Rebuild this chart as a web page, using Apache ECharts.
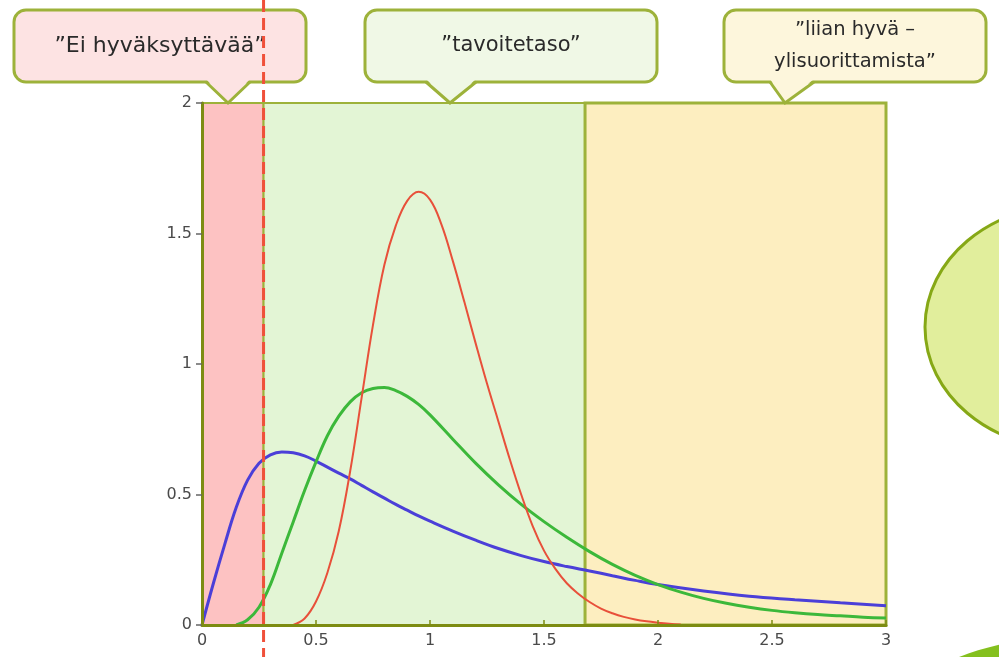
<!DOCTYPE html>
<html>
<head>
<meta charset="utf-8">
<script src="https://cdn.jsdelivr.net/npm/echarts@6/dist/echarts.min.js"></script>
<style>
  html, body { margin: 0; padding: 0; background: #fff; }
  #chart { width: 999px; height: 657px; }
</style>
</head>
<body>
<div id="chart"></div>
<script>
// luettu kuvasta
const blueX = [0, 0.05, 0.1, 0.15, 0.2, 0.25, 0.3, 0.35, 0.4, 0.45, 0.5, 0.55, 0.6, 0.65, 0.7, 0.75, 0.8, 0.85, 0.9, 0.95, 1.0, 1.1, 1.2, 1.3, 1.4, 1.5, 1.6, 1.7, 1.8, 1.9, 2.0, 2.2, 2.4, 2.6, 2.8, 3.0];
const blueY = [0, 0.16, 0.31, 0.45, 0.555, 0.62, 0.652, 0.663, 0.66, 0.648, 0.628, 0.605, 0.582, 0.56, 0.535, 0.51, 0.486, 0.462, 0.44, 0.418, 0.398, 0.36, 0.325, 0.293, 0.266, 0.243, 0.224, 0.207, 0.189, 0.171, 0.155, 0.13, 0.11, 0.097, 0.085, 0.074];

const greenX = [0.15, 0.2, 0.25, 0.3, 0.35, 0.4, 0.45, 0.5, 0.55, 0.6, 0.65, 0.7, 0.75, 0.8, 0.85, 0.9, 0.95, 1.0, 1.1, 1.2, 1.3, 1.4, 1.5, 1.6, 1.7, 1.8, 1.9, 2.0, 2.1, 2.2, 2.3, 2.4, 2.5, 2.6, 2.7, 2.8, 2.9, 3.0];
const greenY = [0, 0.02, 0.068, 0.155, 0.275, 0.395, 0.515, 0.625, 0.725, 0.80, 0.855, 0.89, 0.906, 0.91, 0.898, 0.876, 0.845, 0.805, 0.712, 0.62, 0.537, 0.462, 0.396, 0.336, 0.281, 0.232, 0.19, 0.155, 0.126, 0.102, 0.083, 0.068, 0.056, 0.047, 0.04, 0.035, 0.03, 0.027];

const redX = [0.4, 0.45, 0.5, 0.55, 0.6, 0.65, 0.7, 0.75, 0.8, 0.85, 0.9, 0.95, 1.0, 1.05, 1.1, 1.15, 1.2, 1.25, 1.3, 1.35, 1.4, 1.45, 1.5, 1.55, 1.6, 1.65, 1.7, 1.75, 1.8, 1.85, 1.9, 1.95, 2.0, 2.05, 2.1];
const redY = [0, 0.025, 0.09, 0.2, 0.36, 0.59, 0.87, 1.15, 1.38, 1.53, 1.625, 1.66, 1.63, 1.535, 1.395, 1.24, 1.08, 0.925, 0.78, 0.635, 0.5, 0.38, 0.285, 0.215, 0.16, 0.12, 0.088, 0.063, 0.045, 0.031, 0.021, 0.014, 0.009, 0.005, 0.002];

const xTicks = [0, 0.5, 1, 1.5, 2, 2.5, 3];
const yTicks = [0, 0.5, 1, 1.5, 2];

// alueiden rajat
const rejectLimit = 0.27;
const targetLimit = 1.68;
const xMax = 3;

const callouts = [
  { lines: ['\u201dEi hyväksyttävää\u201d'], fill: '#fde3e3', size: 22 },
  { lines: ['\u201dtavoitetaso\u201d'], fill: '#f0f8e6', size: 21 },
  { lines: ['\u201dliian hyvä \u2013', 'ylisuorittamista\u201d'], fill: '#fdf6dc', size: 19.5 }
];

const olive = '#9db23a';
const chart = echarts.init(document.getElementById('chart'));

function pairs(xs, ys) {
  return xs.map((x, i) => [x, ys[i]]);
}

function lineSeries(name, xs, ys, color, width) {
  return {
    name: name,
    type: 'line',
    data: pairs(xs, ys),
    smooth: 0.4,
    showSymbol: false,
    lineStyle: { color: color, width: width },
    z: 5
  };
}

const option = {
  animation: false,
  grid: { left: 202, right: 113, top: 103, bottom: 32 },
  xAxis: {
    type: 'value',
    min: 0,
    max: xMax,
    interval: 0.5,
    axisLine: { show: true, onZero: false, lineStyle: { color: '#7d8c12', width: 3 } },
    axisTick: { show: true, inside: true, length: 5, lineStyle: { color: '#7d8c12', width: 1.5 } },
    splitLine: { show: false },
    axisLabel: { color: '#4a4a4a', fontSize: 16, fontFamily: 'DejaVu Sans', margin: 8,
      customValues: xTicks },
    z: 10
  },
  yAxis: {
    type: 'value',
    min: 0,
    max: 2,
    interval: 0.5,
    axisLine: { show: true, lineStyle: { color: '#7d8c12', width: 3 } },
    axisTick: { show: true, length: 6, lineStyle: { color: '#666', width: 1.5 } },
    splitLine: { show: false },
    axisLabel: { color: '#4a4a4a', fontSize: 16, fontFamily: 'DejaVu Sans', margin: 10,
      customValues: yTicks },
    z: 10
  },
  series: [
    {
      type: 'line',
      data: [],
      markArea: {
        silent: true,
        data: [
          [{ xAxis: 0, yAxis: 0, itemStyle: { color: '#fdc2c2', borderColor: olive, borderWidth: 2 } }, { xAxis: rejectLimit, yAxis: 2 }],
          [{ xAxis: rejectLimit, yAxis: 0, itemStyle: { color: '#e3f5d5', borderColor: olive, borderWidth: 2 } }, { xAxis: targetLimit, yAxis: 2 }],
          [{ xAxis: targetLimit, yAxis: 0, itemStyle: { color: '#fdeec0', borderColor: olive, borderWidth: 3 } }, { xAxis: xMax, yAxis: 2 }]
        ]
      },
      z: 1
    },
    lineSeries('sininen', blueX, blueY, '#4b3fd8', 3),
    lineSeries('vihreä', greenX, greenY, '#3cb83a', 3),
    lineSeries('punainen', redX, redY, '#e8503a', 2)
  ]
};

chart.setOption(option);

function calloutGraphic(c, box, tip) {
  const bottom = box[1] + box[3];
  const els = [
    { type: 'rect', shape: { x: box[0], y: box[1], width: box[2], height: box[3], r: 12 },
      style: { fill: c.fill, stroke: olive, lineWidth: 3 }, z: 20 },
    { type: 'polygon', shape: { points: [[tip[0], bottom - 3], [tip[2], 103], [tip[1], bottom - 3]] },
      style: { fill: c.fill }, z: 21 },
    { type: 'polyline', shape: { points: [[tip[0], bottom], [tip[2], 103], [tip[1], bottom]] },
      style: { fill: null, stroke: olive, lineWidth: 3 }, z: 22 }
  ];
  const cx = box[0] + box[2] / 2;
  const lh = 32;
  const y0 = box[1] + box[3] / 2 - (c.lines.length - 1) * lh / 2;
  c.lines.forEach((t, k) => {
    els.push({ type: 'text', x: cx, y: y0 + k * lh, z: 23,
      style: { text: t, fill: '#2a2a2a', fontSize: c.size, fontFamily: 'DejaVu Sans',
        align: 'center', verticalAlign: 'middle' } });
  });
  return els;
}

const boxes = [[14, 10, 292, 72], [365, 10, 292, 72], [724, 10, 262, 72]];
const tips = [[206, 250, 228], [426, 476, 450], [770, 814, 785]];

const cutX = chart.convertToPixel({ xAxisIndex: 0 }, rejectLimit);

let graphics = [
  // oikean reunan soikiot
  { type: 'ellipse', shape: { cx: 1070, cy: 327, rx: 145, ry: 122 },
    style: { fill: '#e1ee9c', stroke: '#86a816', lineWidth: 3 }, z: 2 },
  { type: 'ellipse', shape: { cx: 1080, cy: 717, rx: 180, ry: 81 },
    style: { fill: '#84c01e' }, z: 2 }
];
callouts.forEach((c, i) => {
  graphics = graphics.concat(calloutGraphic(c, boxes[i], tips[i]));
});
graphics.push({ type: 'line', shape: { x1: cutX, y1: 0, x2: cutX, y2: 657 },
  style: { stroke: '#f0503a', lineWidth: 3, lineDash: [12, 6] }, z: 30 });

chart.setOption({ graphic: graphics });
</script>
</body>
</html>
